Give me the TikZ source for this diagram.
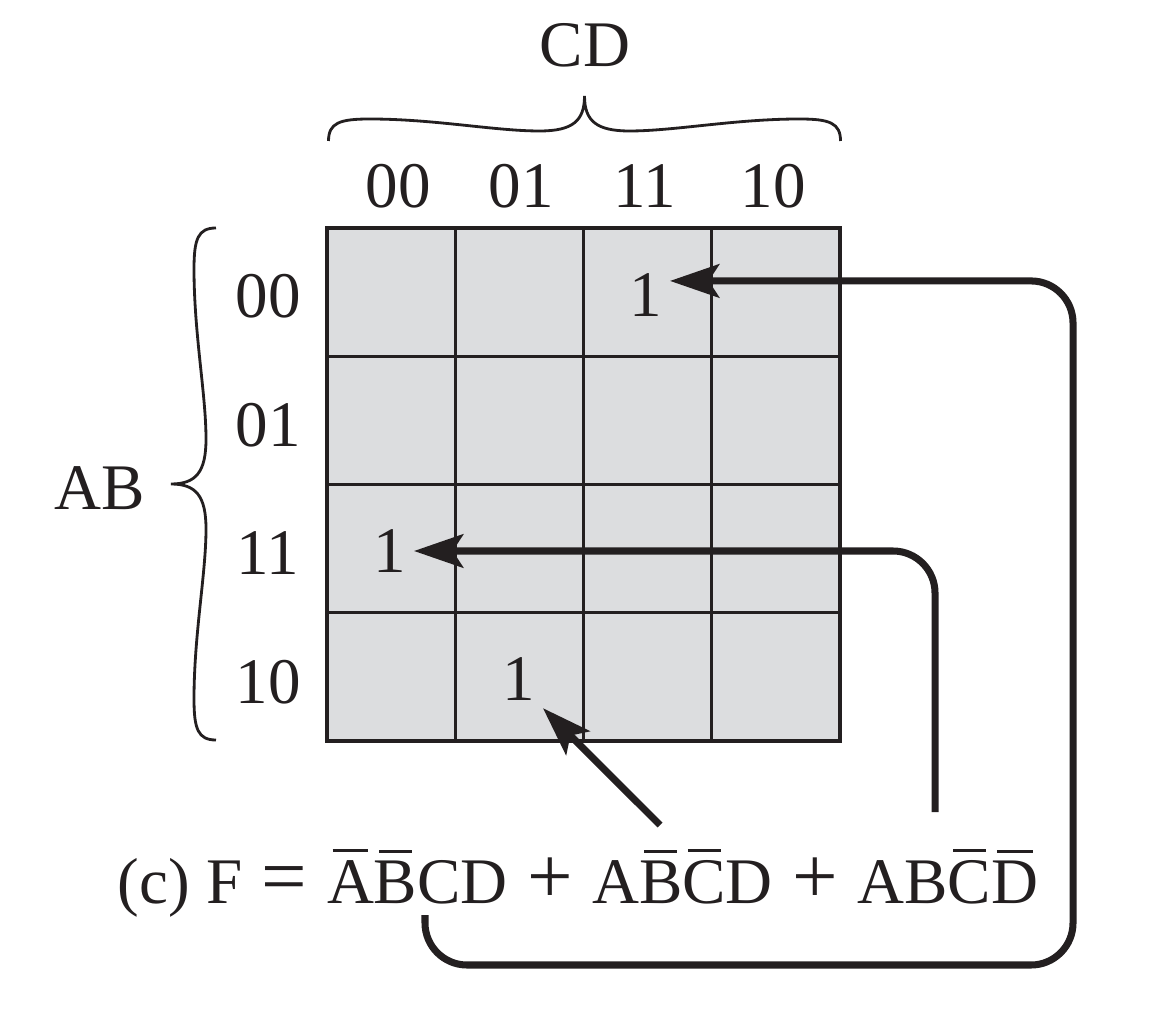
\documentclass[tikz,border=0pt]{standalone}
\usepackage{fontspec}
\setmainfont{Liberation Serif}
\usetikzlibrary{arrows.meta}
\definecolor{ink}{RGB}{35,31,32}
\definecolor{kmapgray}{RGB}{220,221,223}
\newcommand{\nbar}[1]{\leavevmode\setbox0\hbox{#1}\vbox{\offinterlineskip\hbox to\wd0{\hss\vrule width 0.76\wd0 height 0.85pt depth 0pt\hss}\kern2.2pt\box0}}
\newcommand{\op}[1]{\hspace{0.3em}{\fontsize{23}{23}\selectfont#1}\hspace{0.3em}}
\tikzset{
  lbl/.style={inner sep=0pt, text=ink, font=\fontsize{18.5}{22}\selectfont},
  onebox/.style={lbl, inner sep=2pt},
  conn/.style={draw=ink, line width=2pt, rounded corners=0.42cm,
    -{Stealth[length=14pt,width=9.5pt,inset=3pt]}},
  kbrace/.pic={
    \draw[ink, line width=0.8pt] (-2.56,0) .. controls (-2.56,0.18) and (-2.45,0.22) .. (-2.15,0.22)
      .. controls (-1.5,0.22) and (-0.9,0.1) .. (-0.45,0.1)
      .. controls (-0.12,0.1) and (0,0.2) .. (0,0.45)
      .. controls (0,0.2) and (0.12,0.1) .. (0.45,0.1)
      .. controls (0.9,0.1) and (1.5,0.22) .. (2.15,0.22)
      .. controls (2.45,0.22) and (2.56,0.18) .. (2.56,0);
  }
}
\begin{document}
\begin{tikzpicture}
\useasboundingbox (0,0) rectangle (11.56,-10.23);
% the map
\begin{scope}[shift={(3.27,-7.41)}]
\fill [kmapgray] (0,0) rectangle (5.13,5.13);
\draw [ink, line width=0.9pt, step=1.2825] (0,0) grid (5.13,5.13);
\draw [ink, line width=0.9pt] (0,0) rectangle (5.13,5.13);
\end{scope}
% braces and variable names
\pic at (5.845,-1.41) {kbrace};
\pic [rotate=90] at (2.16,-4.84) {kbrace};
\node [lbl] (cd) at (5.85,-0.45) {CD};
\node [lbl] (ab) at (1.00,-4.88) {AB};
% column labels
\node [lbl] (c00) at (3.98,-1.86) {00};
\node [lbl] (c01) at (5.21,-1.86) {01};
\node [lbl] (c11) at (6.45,-1.86) {11};
\node [lbl] (c10) at (7.73,-1.86) {10};
% row labels
\node [lbl] (r00) at (2.68,-2.96) {00};
\node [lbl] (r01) at (2.68,-4.25) {01};
\node [lbl] (r11) at (2.68,-5.53) {11};
\node [lbl] (r10) at (2.68,-6.82) {10};
% minterms
\node [onebox] (one1) at (6.46,-2.95) {1};
\node [onebox] (one2) at (3.90,-5.51) {1};
\node [onebox] (one3) at (5.19,-6.79) {1};
% expression
\node [lbl, anchor=base] (expr) at (5.78,-9.03)
  {(c) F\op{=}\nbar{A}\nbar{B}CD\op{+}A\nbar{B}\nbar{C}D\op{+}AB\nbar{C}\nbar{D}};
\coordinate (s1) at (4.25,-9.15);
\coordinate (b1) at (10.73,-9.65);
\coordinate (s2) at (9.35,-8.12);
\coordinate (s3) at (6.60,-8.25);
\draw [conn] (s1) |- (b1) |- ([yshift=4pt]one1.east);
\draw [conn] (s2) |- (one2.east);
\draw [conn] (s3) -- (one3.south east);
\end{tikzpicture}
\end{document}
